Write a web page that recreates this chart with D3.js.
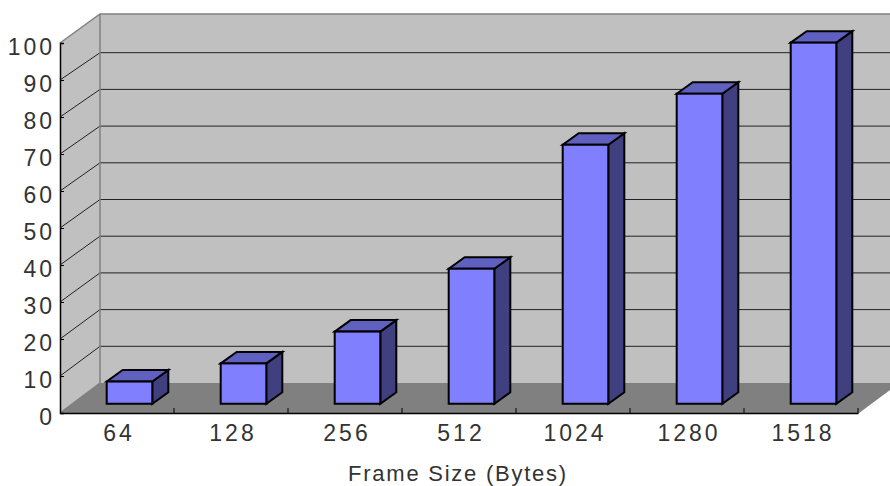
<!DOCTYPE html>
<html>
<head>
<meta charset="utf-8">
<script src="https://cdn.jsdelivr.net/npm/d3@7"></script>
<style>
  html, body { margin: 0; background: #fff; overflow: hidden; }
  text { font-family: "Liberation Sans", sans-serif; fill: #333; }
</style>
</head>
<body>
<svg id="chart"></svg>
<script>
const frameSizes = ["64", "128", "256", "512", "1024", "1280", "1518"];
const throughput = [6, 10.9, 19.5, 36.5, 70, 83.8, 97.6];
const yTicks = [0, 10, 20, 30, 40, 50, 60, 70, 80, 90, 100];
const xTitle = "Frame Size (Bytes)";

const width = 890; // pixels
const height = 486; // pixels
const depth = {x: 40, y: -30}; // floor depth of the 3d box
const barDepth = {x: 16, y: -11.5};

const svg = d3.select("#chart").attr("width", width).attr("height", height).style("display", "block");

const x = d3.scaleBand(frameSizes, [60, 858]);
const y = d3.scaleLinear([0, 100], [413, 43]);
const yBack = d3.scaleLinear([0, 100], [383, 16]); // same values on the back wall
const [x0, x1] = x.range();
const yBase = y(0);
const yTop = y(100);
const wallTop = yTop + depth.y + 1;
const line = d3.line();

// walls and floor
svg.append("path").attr("fill", "#c0c0c0")
  .attr("d", line([[x0 + depth.x, wallTop], [x1 + depth.x, wallTop], [x1 + depth.x, yBase + depth.y], [x0 + depth.x, yBase + depth.y]]));
svg.append("path").attr("fill", "#c0c0c0")
  .attr("d", line([[x0, yTop], [x0 + depth.x, wallTop], [x0 + depth.x, yBase + depth.y], [x0, yBase]]));
svg.append("path").attr("fill", "#808080")
  .attr("d", line([[x0, yBase], [x0 + depth.x, yBase + depth.y], [x1 + depth.x, yBase + depth.y], [x1, yBase]]));

// gridlines, on the side wall and the back wall
const grid = svg.append("g").attr("fill", "none").attr("stroke", "#222");
grid.selectAll("path")
  .data(yTicks.filter(d => d > 0 && d < 100))
  .join("path")
  .attr("d", d => line([[x0, y(d)], [x0 + depth.x, yBack(d)], [x1 + depth.x, yBack(d)]]));

// wall edges
const edges = svg.append("g").attr("fill", "none").attr("stroke", "#808080").attr("stroke-width", 1.5);
edges.append("path")
  .attr("d", line([[x0, yTop], [x0 + depth.x, wallTop], [x1 + depth.x, wallTop]]));
edges.append("path")
  .attr("d", line([[x0 + depth.x, wallTop], [x0 + depth.x, yBase + depth.y], [x0, yBase]]));
edges.append("path")
  .attr("d", line([[x1, yBase], [x1 + depth.x, yBase + depth.y]]));

// bars
const barWidth = x.bandwidth() * 0.4;
const barLeft = d => x(d) + (x.bandwidth() - barWidth) / 2 + (depth.x - barDepth.x) / 2 + 0.5;
const barFloor = yBase + (depth.y - barDepth.y) / 2;
const bars = svg.append("g")
  .attr("stroke", "#000").attr("stroke-width", 2).attr("stroke-linejoin", "miter")
  .selectAll("g")
  .data(frameSizes.map((name, i) => ({name, value: throughput[i]})))
  .join("g");

const barTop = d => barFloor - (yBase - y(d.value));

bars.append("path").attr("fill", "#404080")
  .attr("d", d => {
    const r = barLeft(d.name) + barWidth;
    return line([[r, barTop(d)], [r + barDepth.x, barTop(d) + barDepth.y], [r + barDepth.x, barFloor + barDepth.y], [r, barFloor]]) + "Z";
  });
bars.append("path").attr("fill", "#6060c0")
  .attr("d", d => {
    const l = barLeft(d.name);
    return line([[l, barTop(d)], [l + barDepth.x, barTop(d) + barDepth.y], [l + barWidth + barDepth.x, barTop(d) + barDepth.y], [l + barWidth, barTop(d)]]) + "Z";
  });
bars.append("rect").attr("fill", "#8080ff")
  .attr("x", d => barLeft(d.name))
  .attr("y", barTop)
  .attr("width", barWidth)
  .attr("height", d => barFloor - barTop(d));

// axes
const yAxis = d3.axisLeft(y).tickValues(yTicks).tickSize(-4).tickPadding(5);
svg.append("g")
  .attr("transform", `translate(${x0},0)`)
  .call(yAxis)
  .call(g => g.select(".domain").attr("stroke", "#000").attr("stroke-width", 1.5))
  .call(g => g.selectAll("line").attr("stroke", "#000"))
  .call(g => g.selectAll("text").attr("fill", "#333")
    .style("font-size", "23px").style("letter-spacing", "3px")
    .attr("dy", "0.5em"));

const xAxis = d3.axisBottom(x).tickSize(0).tickPadding(12);
svg.append("g")
  .attr("transform", `translate(0,${yBase})`)
  .call(xAxis)
  .call(g => g.select(".domain").attr("stroke", "#000").attr("stroke-width", 1.5))
  .call(g => g.selectAll("text").attr("fill", "#333")
    .style("font-size", "23px").style("letter-spacing", "3px").attr("dx", 2));

// ticks sit on the band edges
svg.append("g").attr("stroke", "#000")
  .selectAll("line")
  .data(frameSizes)
  .join("line")
  .attr("x1", d => x(d) + x.step())
  .attr("x2", d => x(d) + x.step())
  .attr("y1", yBase - 5)
  .attr("y2", yBase);

svg.append("text")
  .attr("x", 458)
  .attr("y", 481)
  .attr("text-anchor", "middle")
  .style("font-size", "22px")
  .style("letter-spacing", "1.75px")
  .text(xTitle);
</script>
</body>
</html>
